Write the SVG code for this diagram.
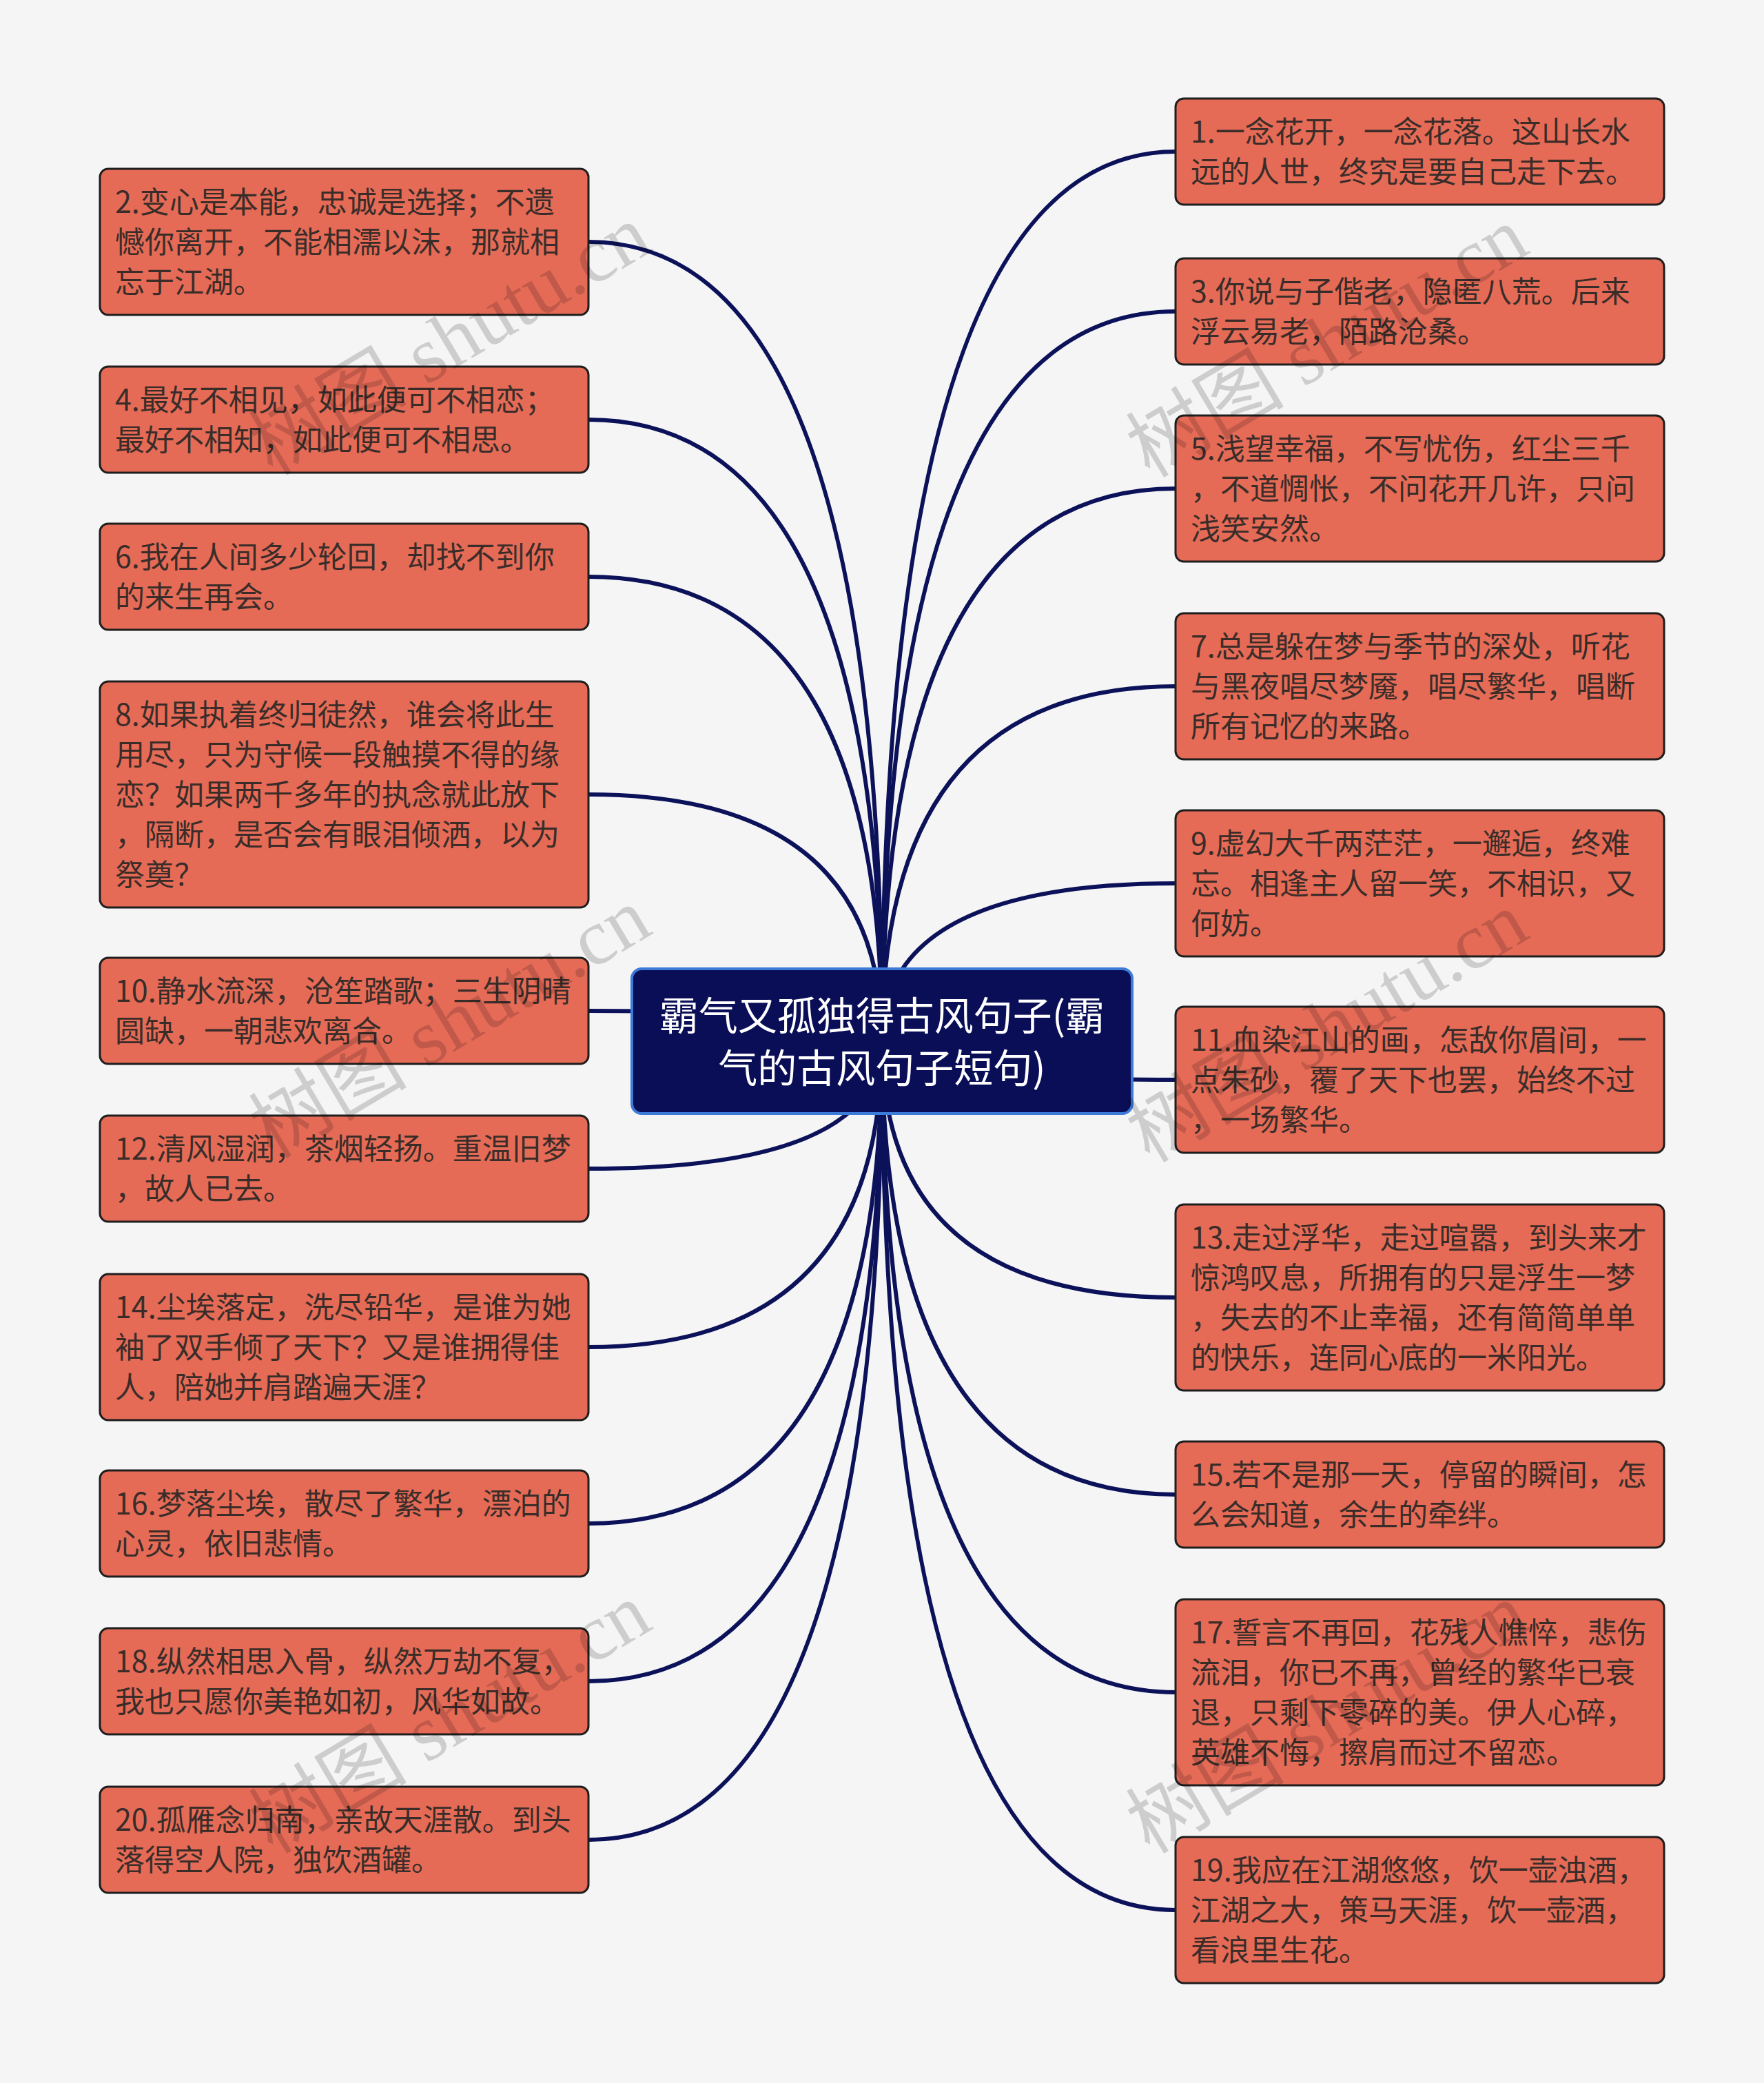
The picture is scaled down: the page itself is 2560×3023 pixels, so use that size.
<svg xmlns="http://www.w3.org/2000/svg" width="2560" height="3023" viewBox="0 0 2560 3023">
<style>
.bg{fill:#f5f5f5}
.node rect{fill:#e56b57;stroke:#1e1e1e;stroke-width:3}
.node text{font-family:"Noto Sans CJK SC","Noto Sans",sans-serif;font-size:43px;fill:#3a2d29}
.link{fill:none;stroke:#0c1259;stroke-width:6}
.center rect{fill:#0a0e57;stroke:#3d7bd9;stroke-width:4}
.center text{font-family:"Noto Sans CJK SC","Noto Sans",sans-serif;font-size:57px;fill:#ffffff;text-anchor:middle}
.wm{font-family:"Liberation Serif","Noto Sans CJK SC",serif;font-size:115px;fill:#000;fill-opacity:0.16;text-anchor:middle}
</style>
<rect class="bg" x="0" y="0" width="2560" height="3023"/>
<g id="connectors">
<path class="link" d="M854 351 Q1280 351 1280 1511"/>
<path class="link" d="M854 609 Q1280 609 1280 1511"/>
<path class="link" d="M854 837 Q1280 837 1280 1511"/>
<path class="link" d="M854 1153 Q1280 1153 1280 1511"/>
<path class="link" d="M854 1467 Q1280 1467 1280 1511"/>
<path class="link" d="M854 1696 Q1280 1696 1280 1511"/>
<path class="link" d="M854 1955 Q1280 1955 1280 1511"/>
<path class="link" d="M854 2211 Q1280 2211 1280 1511"/>
<path class="link" d="M854 2440 Q1280 2440 1280 1511"/>
<path class="link" d="M854 2670 Q1280 2670 1280 1511"/>
<path class="link" d="M1706 220 Q1280 220 1280 1511"/>
<path class="link" d="M1706 452 Q1280 452 1280 1511"/>
<path class="link" d="M1706 709 Q1280 709 1280 1511"/>
<path class="link" d="M1706 996 Q1280 996 1280 1511"/>
<path class="link" d="M1706 1282 Q1280 1282 1280 1511"/>
<path class="link" d="M1706 1567 Q1280 1567 1280 1511"/>
<path class="link" d="M1706 1883 Q1280 1883 1280 1511"/>
<path class="link" d="M1706 2169 Q1280 2169 1280 1511"/>
<path class="link" d="M1706 2456 Q1280 2456 1280 1511"/>
<path class="link" d="M1706 2772 Q1280 2772 1280 1511"/>
</g>
<g id="center" class="center">
<rect x="917" y="1406" width="726" height="210" rx="14"/>
<text x="1280" y="1495">霸气又孤独得古风句子(霸</text>
<text x="1280" y="1571">气的古风句子短句)</text>
</g>
<g id="n2" class="node"><rect x="145" y="245" width="709" height="212" rx="12"/>
<text x="167" y="309">2.变心是本能，忠诚是选择；不遗</text><text x="167" y="367">憾你离开，不能相濡以沫，那就相</text><text x="167" y="425">忘于江湖。</text></g>
<g id="n4" class="node"><rect x="145" y="532" width="709" height="154" rx="12"/>
<text x="167" y="596">4.最好不相见，如此便可不相恋；</text><text x="167" y="654">最好不相知，如此便可不相思。</text></g>
<g id="n6" class="node"><rect x="145" y="760" width="709" height="154" rx="12"/>
<text x="167" y="824">6.我在人间多少轮回，却找不到你</text><text x="167" y="882">的来生再会。</text></g>
<g id="n8" class="node"><rect x="145" y="989" width="709" height="328" rx="12"/>
<text x="167" y="1053">8.如果执着终归徒然，谁会将此生</text><text x="167" y="1111">用尽，只为守候一段触摸不得的缘</text><text x="167" y="1169">恋？如果两千多年的执念就此放下</text><text x="167" y="1227">，隔断，是否会有眼泪倾洒，以为</text><text x="167" y="1285">祭奠？</text></g>
<g id="n10" class="node"><rect x="145" y="1390" width="709" height="154" rx="12"/>
<text x="167" y="1454">10.静水流深，沧笙踏歌；三生阴晴</text><text x="167" y="1512">圆缺，一朝悲欢离合。</text></g>
<g id="n12" class="node"><rect x="145" y="1619" width="709" height="154" rx="12"/>
<text x="167" y="1683">12.清风湿润，茶烟轻扬。重温旧梦</text><text x="167" y="1741">，故人已去。</text></g>
<g id="n14" class="node"><rect x="145" y="1849" width="709" height="212" rx="12"/>
<text x="167" y="1913">14.尘埃落定，洗尽铅华，是谁为她</text><text x="167" y="1971">袖了双手倾了天下？又是谁拥得佳</text><text x="167" y="2029">人，陪她并肩踏遍天涯？</text></g>
<g id="n16" class="node"><rect x="145" y="2134" width="709" height="154" rx="12"/>
<text x="167" y="2198">16.梦落尘埃，散尽了繁华，漂泊的</text><text x="167" y="2256">心灵，依旧悲情。</text></g>
<g id="n18" class="node"><rect x="145" y="2363" width="709" height="154" rx="12"/>
<text x="167" y="2427">18.纵然相思入骨，纵然万劫不复，</text><text x="167" y="2485">我也只愿你美艳如初，风华如故。</text></g>
<g id="n20" class="node"><rect x="145" y="2593" width="709" height="154" rx="12"/>
<text x="167" y="2657">20.孤雁念归南，亲故天涯散。到头</text><text x="167" y="2715">落得空人院，独饮酒罐。</text></g>
<g id="n1" class="node"><rect x="1706" y="143" width="709" height="154" rx="12"/>
<text x="1728" y="207">1.一念花开，一念花落。这山长水</text><text x="1728" y="265">远的人世，终究是要自己走下去。</text></g>
<g id="n3" class="node"><rect x="1706" y="375" width="709" height="154" rx="12"/>
<text x="1728" y="439">3.你说与子偕老，隐匿八荒。后来</text><text x="1728" y="497">浮云易老，陌路沧桑。</text></g>
<g id="n5" class="node"><rect x="1706" y="603" width="709" height="212" rx="12"/>
<text x="1728" y="667">5.浅望幸福，不写忧伤，红尘三千</text><text x="1728" y="725">，不道惆怅，不问花开几许，只问</text><text x="1728" y="783">浅笑安然。</text></g>
<g id="n7" class="node"><rect x="1706" y="890" width="709" height="212" rx="12"/>
<text x="1728" y="954">7.总是躲在梦与季节的深处，听花</text><text x="1728" y="1012">与黑夜唱尽梦魇，唱尽繁华，唱断</text><text x="1728" y="1070">所有记忆的来路。</text></g>
<g id="n9" class="node"><rect x="1706" y="1176" width="709" height="212" rx="12"/>
<text x="1728" y="1240">9.虚幻大千两茫茫，一邂逅，终难</text><text x="1728" y="1298">忘。相逢主人留一笑，不相识，又</text><text x="1728" y="1356">何妨。</text></g>
<g id="n11" class="node"><rect x="1706" y="1461" width="709" height="212" rx="12"/>
<text x="1728" y="1525">11.血染江山的画，怎敌你眉间，一</text><text x="1728" y="1583">点朱砂，覆了天下也罢，始终不过</text><text x="1728" y="1641">，一场繁华。</text></g>
<g id="n13" class="node"><rect x="1706" y="1748" width="709" height="270" rx="12"/>
<text x="1728" y="1812">13.走过浮华，走过喧嚣，到头来才</text><text x="1728" y="1870">惊鸿叹息，所拥有的只是浮生一梦</text><text x="1728" y="1928">，失去的不止幸福，还有简简单单</text><text x="1728" y="1986">的快乐，连同心底的一米阳光。</text></g>
<g id="n15" class="node"><rect x="1706" y="2092" width="709" height="154" rx="12"/>
<text x="1728" y="2156">15.若不是那一天，停留的瞬间，怎</text><text x="1728" y="2214">么会知道，余生的牵绊。</text></g>
<g id="n17" class="node"><rect x="1706" y="2321" width="709" height="270" rx="12"/>
<text x="1728" y="2385">17.誓言不再回，花残人憔悴，悲伤</text><text x="1728" y="2443">流泪，你已不再，曾经的繁华已衰</text><text x="1728" y="2501">退，只剩下零碎的美。伊人心碎，</text><text x="1728" y="2559">英雄不悔，擦肩而过不留恋。</text></g>
<g id="n19" class="node"><rect x="1706" y="2666" width="709" height="212" rx="12"/>
<text x="1728" y="2730">19.我应在江湖悠悠，饮一壶浊酒，</text><text x="1728" y="2788">江湖之大，策马天涯，饮一壶酒，</text><text x="1728" y="2846">看浪里生花。</text></g>
<g id="watermarks">
<text class="wm" transform="translate(673 527) rotate(-30.7)">树图 shutu.cn</text>
<text class="wm" transform="translate(673 1518) rotate(-30.7)">树图 shutu.cn</text>
<text class="wm" transform="translate(673 2527) rotate(-30.7)">树图 shutu.cn</text>
<text class="wm" transform="translate(1946 530) rotate(-30.7)">树图 shutu.cn</text>
<text class="wm" transform="translate(1946 1524) rotate(-30.7)">树图 shutu.cn</text>
<text class="wm" transform="translate(1946 2527) rotate(-30.7)">树图 shutu.cn</text>
</g>
</svg>
